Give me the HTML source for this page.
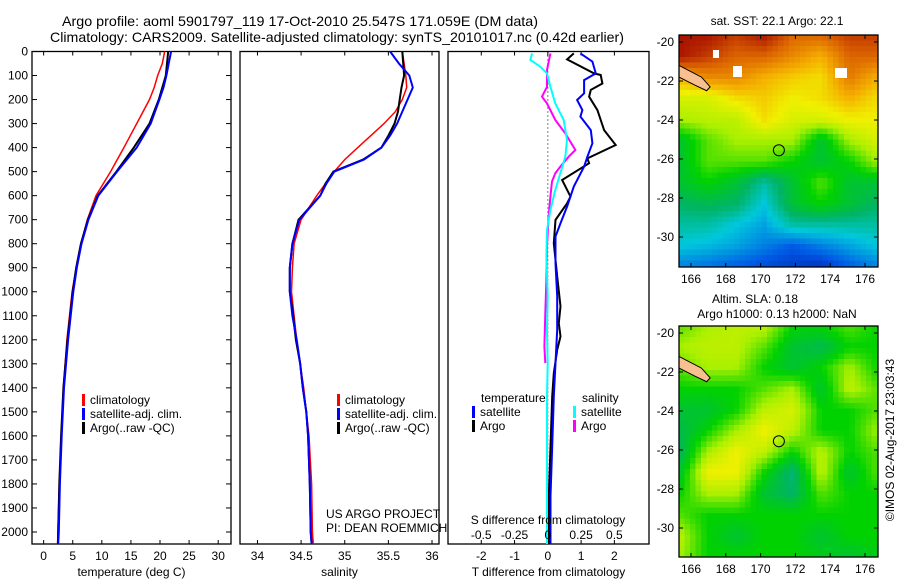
<!DOCTYPE html>
<html><head><meta charset="utf-8"><style>
html,body{margin:0;padding:0;background:#fff}
svg{display:block;font-family:"Liberation Sans",sans-serif}
</style></head><body>
<svg id="fig" width="900" height="580" viewBox="0 0 900 580">
<text x="62" y="26" font-size="14" textLength="476" lengthAdjust="spacingAndGlyphs">Argo profile: aoml 5901797_119 17-Oct-2010 25.547S 171.059E (DM data)</text>
<text x="50" y="42" font-size="14" textLength="574" lengthAdjust="spacingAndGlyphs">Climatology: CARS2009. Satellite-adjusted climatology: synTS_20101017.nc (0.42d earlier)</text>
<g id="p1"></g>
<g id="p2"></g>
<g id="p3"></g>
<g id="m1"></g>
<g id="m2"></g>
<text x="777" y="25" font-size="12" text-anchor="middle">sat. SST: 22.1 Argo: 22.1</text>
<text x="755" y="303" font-size="12" text-anchor="middle">Altim. SLA: 0.18</text>
<text x="777" y="318" font-size="12" text-anchor="middle">Argo h1000: 0.13 h2000: NaN</text>
<text transform="translate(894,440) rotate(-90)" font-size="12" text-anchor="middle">©IMOS 02-Aug-2017 23:03:43</text>
</svg>
<script>
// ---- data ----
const depthT = [0,50,100,150,200,300,400,500,600,700,800,900,1000,1200,1400,1600,1800,2000,2050];
const argoT  = [21.4,21.2,21.0,20.4,19.8,18.2,15.5,12.5,9.3,7.6,6.4,5.6,5.0,4.1,3.4,3.0,2.7,2.5,2.45];
const satT   = [21.9,21.5,21.1,20.6,19.9,18.4,16.0,12.6,9.4,7.7,6.5,5.7,5.1,4.2,3.5,3.1,2.8,2.6,2.5];
const climT  = [20.8,20.4,19.6,19.0,18.2,16.0,13.8,11.5,9.0,7.5,6.4,5.6,4.9,4.0,3.4,3.0,2.7,2.45,2.4];
const depthS = [0,50,100,150,200,250,300,350,400,450,500,550,600,700,800,900,1000,1100,1200,1300,1400,1500,1600,1800,2000,2050];
const argoS  = [35.66,35.67,35.68,35.65,35.63,35.61,35.57,35.5,35.42,35.21,34.87,34.78,34.72,34.47,34.40,34.37,34.37,34.41,34.44,34.49,34.52,34.56,34.58,34.60,34.61,34.62];
const satS   = [35.52,35.62,35.74,35.78,35.72,35.66,35.6,35.52,35.42,35.22,34.88,34.79,34.72,34.48,34.40,34.37,34.37,34.40,34.45,34.49,34.52,34.56,34.58,34.60,34.61,34.62];
const climS  = [35.66,35.68,35.7,35.71,35.66,35.58,35.45,35.3,35.15,35.0,34.88,34.78,34.68,34.5,34.42,34.4,34.39,34.42,34.45,34.49,34.53,34.56,34.59,34.62,34.63,34.64];
const dArgoT = [8,33,91,98,133,160,188,244,327,389,445,465,535,604,632,701,798,937,1061,1131,1186,1242,1339,1436,1644,1851,2050];
const vArgoT = [0.78,0.58,1.39,1.59,1.64,1.29,1.24,1.49,1.69,2.04,1.19,1.24,0.43,0.68,0.58,0.23,0.18,0.28,0.38,0.33,0.38,0.28,0.18,0.13,0.08,0.03,0.03];
const dSatT  = [8,42,91,119,174,202,244,271,327,382,438,479,562,645,715,770,881,1019,1158,1297,1436,1644,1851,2050];
const vSatT  = [0.98,1.34,1.44,1.09,1.09,0.88,1.04,0.98,1.29,1.34,1.19,1.09,0.78,0.58,0.38,0.23,0.23,0.28,0.28,0.23,0.18,0.13,0.08,0.08];
const dSatS  = [8,35,63,91,147,216,285,368,438,507,576,660,743,853,1019,1158,1297,1436,1644,2050];
const vSatS  = [-0.119,-0.131,-0.057,-0.006,0.019,0.056,0.119,0.144,0.131,0.094,0.056,0.019,-0.006,-0.011,-0.001,-0.006,-0.001,-0.006,-0.006,-0.006];
const dArgoS = [8,77,147,188,216,285,341,410,438,479,507,541,604,687,812,950,1089,1228,1297];
const vArgoS = [0.019,-0.006,-0.006,-0.044,-0.006,0.056,0.131,0.207,0.157,0.094,0.056,0.031,0.019,0.006,-0.006,-0.011,-0.019,-0.026,-0.019];
const depthTicks = [0,100,200,300,400,500,600,700,800,900,1000,1100,1200,1300,1400,1500,1600,1700,1800,1900,2000];
const tTicks = [0,5,10,15,20,25,30];
const sTicks = [34,34.5,35,35.5,36];
const dTTicks = [-2,-1,0,1,2];
const dSTickLabels = ["-0.5","-0.25","0","0.25","0.5"];
const dSTicks = [-0.5,-0.25,0,0.25,0.5];

const NS="http://www.w3.org/2000/svg";
function el(parent,tag,attrs,text){const e=document.createElementNS(NS,tag);for(const k in attrs)e.setAttribute(k,attrs[k]);if(text!==undefined)e.textContent=text;parent.appendChild(e);return e;}
const Y0=51.5,Y1=544;
const yD=d=>Y0+(d/2050)*(Y1-Y0);
function lin(d0,d1,r0,r1){return v=>r0+(v-d0)/(d1-d0)*(r1-r0);}

function frame(g,x0,x1,xs,ticks,labels,xlab,leftTicks){
  const r=el(g,'rect',{x:x0,y:Y0,width:x1-x0,height:Y1-Y0,fill:'none',stroke:'#000','stroke-width':1.3});
  
  
  ticks.forEach((t,i)=>{const x=xs(t);
    el(g,'line',{x1:x,x2:x,y1:Y0,y2:Y0+4,stroke:'#000'});
    el(g,'line',{x1:x,x2:x,y1:Y1,y2:Y1-4,stroke:'#000'});
    const tl=el(g,'text',{x:x,y:Y1+16,'font-size':12,'text-anchor':'middle'},labels[i]);
    
    
  });
  const xl=el(g,'text',{x:(x0+x1)/2,y:Y1+32,'font-size':12,'text-anchor':'middle'},xlab);
  
  
  if(leftTicks){depthTicks.forEach(d=>{const y=yD(d);
    el(g,'line',{x1:x0,x2:x0+5,y1:y,y2:y,stroke:'#000'});
    el(g,'line',{x1:x1,x2:x1-5,y1:y,y2:y,stroke:'#000'});
    const t=el(g,'text',{x:x0-4,y:y+4,'font-size':12,'text-anchor':'end'},String(d));
    
    
  });}
}
function line(g,xs,vals,depths,color,w,name){
  const pts=vals.map((v,i)=>xs(v).toFixed(1)+','+yD(depths[i]).toFixed(1)).join(' ');
  const p=el(g,'polyline',{points:pts,fill:'none',stroke:color,'stroke-width':w});
  
  
}
function legend(g,x,y,items){
  items.forEach((it,i)=>{
    el(g,'rect',{x:x,y:y+i*14-10,width:3,height:12,fill:it[1]});
    const t=el(g,'text',{x:x+8,y:y+i*14,'font-size':12},it[0]);
    
    
  });
}
// panel 1
const p1=document.getElementById('p1');
const xT=lin(-2,32.2,32,231);
frame(p1,32,231,xT,tTicks,tTicks.map(String),'temperature (deg C)',true);
line(p1,xT,climT,depthT,'#f00',1.5,'climatology-temperature-line');
line(p1,xT,argoT,depthT,'#000',2,'argo-temperature-line');
line(p1,xT,satT,depthT,'#00f',2,'satellite-temperature-line');
legend(p1,82,404,[['climatology','#f00'],['satellite-adj. clim.','#00f'],['Argo(..raw -QC)','#000']]);
// panel 2
const p2=document.getElementById('p2');
const xS=lin(33.8,36.08,240,439);
frame(p2,240,439,xS,sTicks,sTicks.map(String),'salinity',false);
line(p2,xS,climS,depthS,'#f00',1.5,'climatology-salinity-line');
line(p2,xS,argoS,depthS,'#000',2,'argo-salinity-line');
line(p2,xS,satS,depthS,'#00f',2,'satellite-salinity-line');
legend(p2,337,404,[['climatology','#f00'],['satellite-adj. clim.','#00f'],['Argo(..raw -QC)','#000']]);
let t=el(p2,'text',{x:326,y:518,'font-size':12},'US ARGO PROJECT');


t=el(p2,'text',{x:326,y:532,'font-size':12},'PI: DEAN ROEMMICH');


// panel 3
const p3=document.getElementById('p3');
const xDT=lin(-3,3.04,448,649);
const xDS=v=>xDT(v*4);
frame(p3,448,649,xDT,dTTicks,dTTicks.map(String),'T difference from climatology',false);
el(p3,'line',{x1:xDT(0),x2:xDT(0),y1:Y0,y2:Y1,stroke:'#000','stroke-dasharray':'1,3'});
line(p3,xDT,vArgoT,dArgoT,'#000',2,'argo-temperature-difference-line');
line(p3,xDT,vSatT,dSatT,'#00f',2,'satellite-temperature-difference-line');
line(p3,xDS,vArgoS,dArgoS,'#f0f',2,'argo-salinity-difference-line');
line(p3,xDS,vSatS,dSatS,'#0ff',2,'satellite-salinity-difference-line');
t=el(p3,'text',{x:481,y:402,'font-size':12},'temperature');


t=el(p3,'text',{x:582,y:402,'font-size':12},'salinity');


legend(p3,472,416,[['satellite','#00f'],['Argo','#000']]);
legend(p3,573,416,[['satellite','#0ff'],['Argo','#f0f']]);
t=el(p3,'text',{x:548,y:524,'font-size':12,'text-anchor':'middle'},'S difference from climatology');


dSTicks.forEach((v,i)=>{
  const tl=el(p3,'text',{x:xDS(v),y:539,'font-size':12,'text-anchor':'middle'},dSTickLabels[i]);
  
  
});

// ---- maps ----
const sstGrid=[
[.95,.95,.9,.95,.85,.85,.9,.9],
[.95,.9,.85,.85,.8,.75,.85,.85],
[.75,.8,.8,.75,.72,.7,.82,.75],
[.65,.65,.7,.72,.68,.7,.75,.7],
[.6,.62,.62,.7,.65,.65,.68,.68],
[.45,.55,.6,.6,.6,.45,.6,.65],
[.45,.55,.55,.55,.5,.45,.5,.6],
[.45,.5,.45,.35,.45,.55,.45,.45],
[.4,.42,.4,.3,.45,.5,.45,.4],
[.35,.35,.3,.25,.35,.35,.35,.35],
[.3,.28,.25,.2,.15,.2,.25,.3],
[.2,.18,.15,.12,.1,.08,.15,.2]];
const slaGrid=[
[.55,.6,.62,.62,.5,.5,.55,.5],
[.6,.62,.62,.55,.45,.42,.5,.5],
[.55,.6,.6,.5,.45,.5,.6,.5],
[.5,.5,.5,.55,.6,.45,.62,.55],
[.45,.45,.5,.62,.65,.5,.5,.55],
[.42,.5,.6,.68,.62,.5,.5,.6],
[.4,.6,.68,.62,.5,.62,.5,.55],
[.45,.68,.68,.5,.38,.62,.45,.55],
[.5,.6,.6,.45,.4,.55,.5,.5],
[.55,.5,.5,.5,.5,.5,.5,.5],
[.62,.5,.45,.5,.5,.45,.5,.5],
[.6,.5,.5,.5,.5,.48,.45,.48]];
const cmap=[[0,[0,0,140]],[.15,[0,90,230]],[.3,[0,200,220]],[.4,[0,180,100]],[.5,[0,210,0]],[.6,[170,240,0]],[.68,[240,240,0]],[.75,[245,175,0]],[.85,[220,100,0]],[.95,[170,20,0]],[1,[150,10,0]]];
function col(v){v=Math.max(0,Math.min(1,v));for(let i=1;i<cmap.length;i++){if(v<=cmap[i][0]){const a=cmap[i-1],b=cmap[i];const f=(v-a[0])/(b[0]-a[0]);return 'rgb('+a[1].map((c,k)=>Math.round(c+(b[1][k]-c)*f)).join(',')+')';}}return 'rgb(150,10,0)';}
function interp(g,fx,fy){const r=g.length-1,c=g[0].length-1;fx=Math.max(0,Math.min(c,fx));fy=Math.max(0,Math.min(r,fy));const i=Math.min(r-1,Math.floor(fy)),j=Math.min(c-1,Math.floor(fx));const a=fy-i,b=fx-j;return g[i][j]*(1-a)*(1-b)+g[i][j+1]*(1-a)*b+g[i+1][j]*a*(1-b)+g[i+1][j+1]*a*b;}
function drawMap(id,grid,x0,y0,x1,y1,latTop){
  const g=document.getElementById(id);
  const lon=lin(166,176,691,865);
  const lat=lin(-20,-30,latTop,latTop+195);
  const cs=5.5;
  for(let y=y0;y<y1;y+=cs){for(let x=x0;x<x1;x+=cs){
    const fx=(x+cs/2-x0)/(x1-x0)*7, fy=(y+cs/2-y0)/(y1-y0)*11;
    el(g,'rect',{x:x,y:y,width:Math.min(cs,x1-x)+0.3,height:Math.min(cs,y1-y)+0.3,fill:col(interp(grid,fx,fy))});
  }}
  // New Caledonia
  const land=el(g,'polygon',{points:[[x0,lat(-21.2)],[lon(166.6),lat(-21.8)],[lon(167.1),lat(-22.3)],[lon(166.9),lat(-22.5)],[lon(166.2),lat(-22.2)],[x0,lat(-21.8)]].map(p=>p.join(',')).join(' '),fill:'#f8c090',stroke:'#000','stroke-width':1});
  
  
  const c=el(g,'circle',{cx:lon(171.05),cy:lat(-25.55),r:5.5,fill:'none',stroke:'#000','stroke-width':1});
  
  
  const fr=el(g,'rect',{x:x0,y:y0,width:x1-x0,height:y1-y0,fill:'none',stroke:'#000','stroke-width':1.3});
  
  
  [166,168,170,172,174,176].forEach(v=>{const x=lon(v);
    el(g,'line',{x1:x,x2:x,y1:y0,y2:y0+4,stroke:'#000'});el(g,'line',{x1:x,x2:x,y1:y1,y2:y1-4,stroke:'#000'});
    const t=el(g,'text',{x:x,y:y1+16,'font-size':12,'text-anchor':'middle'},String(v));
    
    
  });
  [-20,-22,-24,-26,-28,-30].forEach(v=>{const y=lat(v);
    el(g,'line',{x1:x0,x2:x0+4,y1:y,y2:y,stroke:'#000'});el(g,'line',{x1:x1,x2:x1-4,y1:y,y2:y,stroke:'#000'});
    const t=el(g,'text',{x:x0-5,y:y+4,'font-size':12,'text-anchor':'end'},String(v));
    
    
  });
}
drawMap('m1',sstGrid,679,35,878,267,42);
// white cloud gaps on SST map
[[733,66,9,11],[835,68,12,10],[713,50,6,8]].forEach(r=>{const w=el(document.getElementById('m1'),'rect',{x:r[0],y:r[1],width:r[2],height:r[3],fill:'#fff'});});
drawMap('m2',slaGrid,679,326,878,557,333);
</script>
</body></html>
